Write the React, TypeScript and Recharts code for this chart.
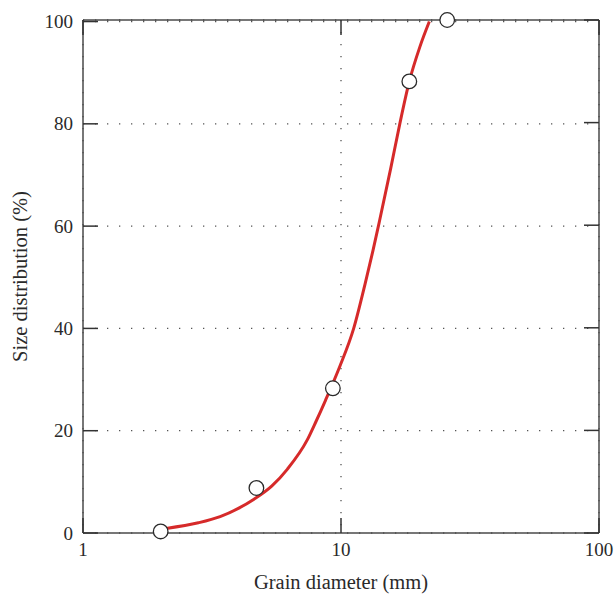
import React from 'react';
import {
  ComposedChart,
  Line,
  Scatter,
  XAxis,
  YAxis,
  CartesianGrid,
} from 'recharts';

// measured sieve points (mm, % passing)
const sieveSizes = [2.0, 4.7, 9.3, 18.4, 25.8];
const passing = [0.3, 8.8, 28.3, 88.3, 100.3];

// fitted grading curve
const curveSizes = [2.1, 2.8, 3.4, 4.0, 4.6, 5.4, 6.2, 7.4, 8.0, 8.7, 9.9, 11.2, 12.4, 13.3, 14.1, 15.6, 16.9, 18.4, 20.2, 22.0];
const curvePassing = [0.9, 2.0, 3.2, 4.8, 6.6, 9.2, 12.5, 18.2, 21.8, 25.9, 32.6, 40, 48.7, 55.2, 61, 71.4, 80, 88.3, 95, 100];

const xTicks = [1, 10, 100];
const yTicks = [0, 20, 40, 60, 80, 100];

const points = sieveSizes.map((d, i) => ({ d, p: passing[i] }));
const curve = curveSizes.map((d, i) => ({ d, p: curvePassing[i] }));

const FONT = '"Liberation Serif", "Times New Roman", serif';
const AXIS = '#4a4a4a';
const TICK = '#333';
const TEXT = '#2a2a2a';
const TL = 15; // inward tick length

const BottomTick = (props: any) => {
  const { x, y, payload } = props;
  return (
    <g>
      <line x1={x} x2={x} y1={y - 10} y2={y - 10 - TL} stroke={TICK} strokeWidth={1.5} />
      <text x={x} y={y} dy="0.71em" textAnchor="middle" fontSize={19} fill={TEXT} fontFamily={FONT}>
        {payload.value}
      </text>
    </g>
  );
};

const LeftTick = (props: any) => {
  const { x, y, payload } = props;
  return (
    <g>
      <line x1={x + 10} x2={x + 10 + TL} y1={y} y2={y} stroke={TICK} strokeWidth={1.5} />
      <text x={x} y={y} dy="0.35em" textAnchor="end" fontSize={19} fill={TEXT} fontFamily={FONT}>
        {payload.value}
      </text>
    </g>
  );
};

const TopTick = (props: any) => {
  const { x, y } = props;
  return <line x1={x} x2={x} y1={y} y2={y + TL} stroke={TICK} strokeWidth={1.5} />;
};

const RightTick = (props: any) => {
  const { x, y } = props;
  return <line x1={x} x2={x - TL} y1={y} y2={y} stroke={TICK} strokeWidth={1.5} />;
};

const YTitle = (props: any) => {
  const { viewBox } = props;
  const cx = viewBox.x + 20;
  const cy = viewBox.y + viewBox.height / 2;
  return (
    <text
      x={cx}
      y={cy}
      transform={`rotate(-90 ${cx} ${cy})`}
      textAnchor="middle"
      dominantBaseline="central"
      fontSize={20.5}
      fill={TEXT}
      fontFamily={FONT}
    >
      Size distribution (%)
    </text>
  );
};

export default function App() {
  return (
    <div style={{ position: 'absolute', left: 0, top: 0, background: '#fff' }}>
      <ComposedChart
        width={615}
        height={599}
        margin={{ top: 19, right: 15, left: 0, bottom: 0 }}
      >
        <CartesianGrid
          xAxisId="b"
          yAxisId="l"
          stroke="#555"
          strokeWidth={1.3}
          strokeDasharray="1.3 10.7"
        />
        <XAxis
          xAxisId="b"
          dataKey="d"
          type="number"
          scale="log"
          domain={[1, 100]}
          ticks={xTicks}
          height={66}
          stroke={AXIS}
          strokeWidth={1.5}
          tickLine={false}
          tickSize={0}
          tickMargin={10}
          tick={<BottomTick />}
          label={{
            value: 'Grain diameter (mm)',
            position: 'insideBottom',
            offset: 10,
            fontSize: 20.5,
            fill: TEXT,
            fontFamily: FONT,
          }}
        />
        <XAxis
          xAxisId="t"
          orientation="top"
          dataKey="d"
          type="number"
          scale="log"
          domain={[1, 100]}
          ticks={xTicks}
          allowDataOverflow
          height={1}
          stroke={AXIS}
          strokeWidth={1.5}
          tickLine={false}
          tickSize={0}
          tickMargin={0}
          tick={<TopTick />}
        />
        <YAxis
          yAxisId="l"
          dataKey="p"
          type="number"
          domain={[0, () => 100]}
          ticks={yTicks}
          width={83}
          stroke={AXIS}
          strokeWidth={1.5}
          tickLine={false}
          tickSize={0}
          tickMargin={10}
          tick={<LeftTick />}
          label={{ value: 'Size distribution (%)', content: YTitle }}
        />
        <YAxis
          yAxisId="r"
          orientation="right"
          dataKey="p"
          type="number"
          domain={[0, 100]}
          ticks={yTicks}
          allowDataOverflow
          width={1}
          stroke={AXIS}
          strokeWidth={1.5}
          tickLine={false}
          tickSize={0}
          tickMargin={0}
          tick={<RightTick />}
        />
        <Line
          xAxisId="b"
          yAxisId="l"
          data={curve}
          dataKey="p"
          type="monotone"
          stroke="#d62a2a"
          strokeWidth={3}
          dot={false}
          activeDot={false}
          isAnimationActive={false}
        />
        <Scatter
          xAxisId="b"
          yAxisId="l"
          data={points}
          dataKey="p"
          fill="#fff"
          stroke="#2a2a2a"
          strokeWidth={1.3}
          shape={(p: any) => (
            <circle cx={p.cx} cy={p.cy} r={7.3} fill="#fff" stroke="#2a2a2a" strokeWidth={1.3} />
          )}
          isAnimationActive={false}
        />
      </ComposedChart>
    </div>
  );
}
